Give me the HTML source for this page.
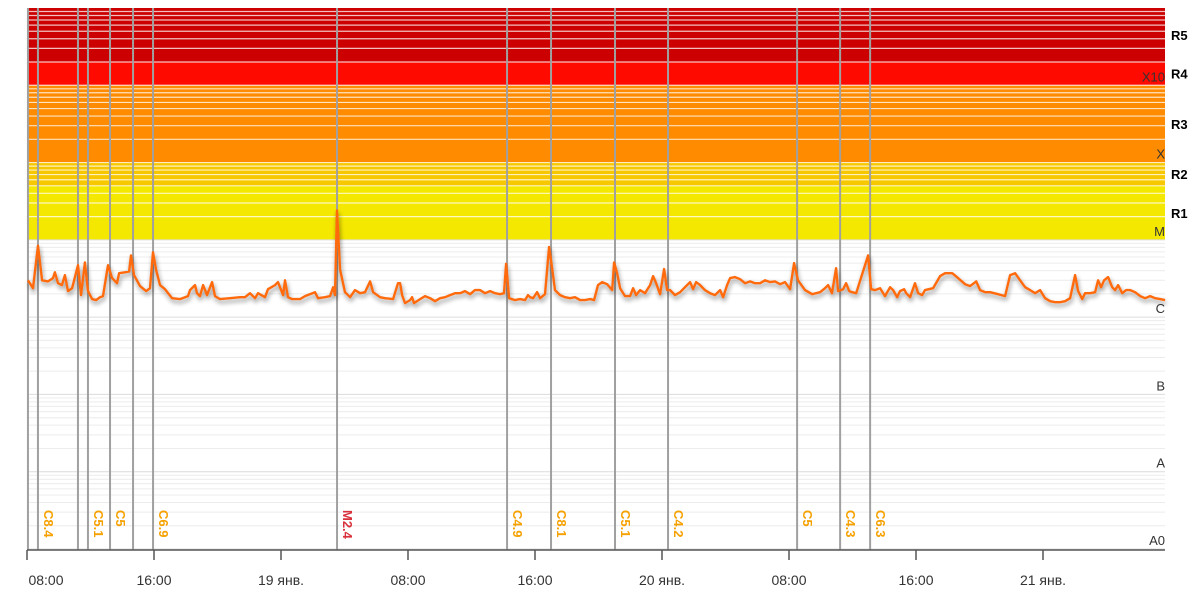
<!DOCTYPE html>
<html><head><meta charset="utf-8"><style>
html,body{margin:0;padding:0;background:#fff;}
svg{display:block;font-family:"Liberation Sans","Noto Sans CJK JP",sans-serif;}
</style></head><body>
<svg id="chart" width="1200" height="609" viewBox="0 0 1200 609" xmlns="http://www.w3.org/2000/svg">
<defs>
<filter id="sh" x="-5%" y="-20%" width="110%" height="140%"><feGaussianBlur in="SourceAlpha" stdDeviation="2.5"/><feOffset dx="1" dy="3"/><feComponentTransfer><feFuncA type="linear" slope="0.45"/></feComponentTransfer><feMerge><feMergeNode/><feMergeNode in="SourceGraphic"/></feMerge></filter>
</defs>
<g id="bands"></g>
<g id="grid"></g>
<g id="flares"></g>
<g id="series"></g>
<g id="ylabels"></g>
<g id="xaxis"></g>
</svg>
<script>
// time in hours from 18 Jan 08:00; flux in units of 1e-6 W/m2 (C-class)
const times = [0.06,0.38,0.69,0.95,1.32,1.64,1.76,1.95,2.2,2.39,2.58,2.84,3.21,3.4,3.65,3.84,4.1,4.35,4.6,4.79,5.1,5.36,5.67,5.8,6.17,6.43,6.55,6.74,7.12,7.5,7.75,7.94,8.13,8.38,8.69,9.14,9.64,10.14,10.27,10.58,10.71,10.9,11.09,11.34,11.66,11.84,12.16,12.79,13.42,13.73,14.05,14.36,14.55,14.99,15.18,15.62,15.81,16.13,16.25,16.44,16.7,17.2,17.51,18.14,18.33,18.77,19.09,19.28,19.4,19.53,19.72,20.03,20.35,20.66,20.98,21.29,21.61,21.8,22.24,22.55,23.06,23.37,23.5,23.63,23.81,24.13,24.26,24.38,24.76,25.07,25.39,25.7,26.02,26.33,26.65,26.96,27.28,27.59,27.91,28.22,28.54,28.85,29.17,29.48,29.8,30.05,30.18,30.37,30.74,31.06,31.37,31.56,31.69,31.88,32.13,32.32,32.63,32.89,33.08,33.26,33.58,33.89,34.21,34.52,34.84,35.15,35.47,35.72,35.97,36.23,36.54,36.86,36.98,37.17,37.36,37.67,37.99,38.18,38.37,38.62,38.93,39.25,39.44,39.63,39.88,40.13,40.32,40.51,40.82,41.14,41.45,41.77,41.96,42.15,42.4,42.71,43.03,43.34,43.66,43.85,44.1,44.29,44.6,44.92,45.23,45.55,45.86,46.18,46.49,46.81,47.12,47.44,47.75,48.07,48.32,48.57,49.01,49.46,49.96,50.27,50.46,50.71,50.97,51.09,51.41,51.6,51.79,51.98,52.23,52.98,53.17,53.42,53.74,54.05,54.37,54.56,54.81,54.99,55.25,55.38,55.63,55.94,56.13,56.39,56.57,57.08,57.52,57.83,58.28,58.65,59.09,59.41,59.79,60.04,60.35,60.67,61.17,61.61,61.93,62.24,62.56,62.87,63.19,63.5,63.82,64.13,64.45,64.76,65.08,65.39,65.71,66.02,66.21,66.47,66.65,66.97,67.28,67.47,67.66,67.85,68.1,68.36,68.54,68.73,68.99,69.24,69.49,69.8,70.12,70.43,70.75,71.06,71.38,71.69];
const flux = [3.0,2.37,8.4,3.0,2.9,3.2,3.8,2.75,2.6,3.5,2.17,2.37,4.7,1.93,5.1,2.17,1.71,1.66,1.81,1.87,4.7,3.2,2.75,3.7,3.8,3.9,6.3,3.5,2.52,2.17,2.37,6.9,4.1,2.6,2.3,1.76,1.71,1.87,2.24,2.6,2.04,1.87,2.6,1.93,2.84,1.87,1.71,1.76,1.81,1.81,2.04,1.76,2.04,1.81,2.3,2.6,2.84,1.93,3.0,1.81,1.71,1.71,1.87,2.1,1.76,1.81,1.87,2.44,1.93,24,4.1,2.1,1.81,2.24,2.04,2.1,2.9,2.1,1.81,1.76,1.71,2.75,2.75,1.93,1.52,1.66,1.81,1.52,1.71,1.87,1.76,1.61,1.76,1.81,1.93,2.04,2.04,2.17,1.98,2.24,2.24,2.04,2.17,2.04,1.98,2.04,4.9,1.76,1.66,1.71,1.66,1.93,1.81,1.76,2.1,1.76,1.98,8.1,4.3,2.24,1.93,1.81,1.76,1.81,1.66,1.66,1.71,1.66,2.6,2.84,2.67,2.24,5.1,3.7,2.37,1.87,1.87,2.37,1.93,2.24,2.04,2.6,3.4,2.75,1.98,4.2,2.24,2.24,1.93,2.1,2.44,2.84,2.3,2.84,2.6,2.24,2.04,1.93,2.24,1.81,2.6,3.2,3.3,3.1,2.75,2.9,2.75,2.75,3.0,2.84,2.9,2.67,2.84,2.3,5.0,3.0,2.24,1.98,2.1,2.37,2.6,2.04,4.3,2.17,2.3,2.75,2.17,2.1,2.04,6.3,2.3,2.24,2.37,1.87,2.44,2.24,1.81,2.17,2.3,2.04,1.81,2.75,2.04,1.93,2.24,2.37,3.4,3.7,3.7,3.2,2.67,2.52,2.9,2.24,2.1,2.1,1.98,1.87,3.5,3.7,3.0,2.44,2.24,2.04,2.24,1.76,1.61,1.56,1.56,1.61,1.76,3.5,2.17,1.71,2.04,2.04,2.1,3.0,2.44,3.0,3.3,2.44,2.24,2.6,2.04,2.24,2.24,2.1,1.87,1.76,1.87,1.76,1.71,1.66];
const flareTimes = [0.06,0.69,3.21,3.84,5.23,6.68,7.94,19.53,30.24,33.01,37.04,40.38,48.51,51.22,53.11];
const flareLabels = ["","C8.4","","C5.1","C5","","C6.9","M2.4","C4.9","C8.1","C5.1","C4.2","C5","C4.3","C6.3"];
const tickHours = [0,8,16,24,32,40,48,56,64];
const tickLabels = ["08:00","16:00","19 янв.","08:00","16:00","20 янв.","08:00","16:00","21 янв."];
const levelNames = ["A0","A","B","C","M","X","X10"];
const levelFlux = [1e-9,1e-8,1e-7,1e-6,1e-5,1e-4,1e-3];
const rNames = ["R1","R2","R3","R4","R5"];
const rFlux = [1e-5,5e-5,1e-4,1e-3,2e-3,1e-2];

const X0=27, X1=1165, HMAX=(1165-27)/15.875;
const Y_BOT=549, Y_TOP=8;
const xs = h => X0 + h/HMAX*(X1-X0);
const ys = f => Y_BOT - (Math.log10(f)+9)/7*(Y_BOT-Y_TOP);
const NS="http://www.w3.org/2000/svg";
function mk(tag, attrs, parent){const e=document.createElementNS(NS,tag);for(const k in attrs)e.setAttribute(k,attrs[k]);parent.appendChild(e);return e;}

const bands=document.getElementById('bands');
const bandDefs=[[1e-5,5e-5,"#f5e800"],[5e-5,1e-4,"#f7c800"],[1e-4,1e-3,"#ff8c00"],[1e-3,2e-3,"#ff0a00"],[2e-3,1e-2,"#cc0000"]];
bandDefs.forEach(b=>{
  const r=mk('rect',{x:X0,y:ys(b[1]),width:X1-X0,height:ys(b[0])-ys(b[1]),fill:b[2]},bands);
  
  
});
const grid=document.getElementById('grid');
for(let e=-9;e<-2;e++){for(let k=1;k<10;k++){
  const f=k*Math.pow(10,e); const y=ys(f);
  const inBand=f>1e-5+1e-12;
  const l=mk('line',{x1:X0,x2:X1,y1:y,y2:y,stroke:inBand?"rgba(255,255,255,0.75)":(k==1?"#dcdcdc":"#ececec"),"stroke-width":inBand?1.2:1},grid);
  
  
}}
const fl=document.getElementById('flares');
flareTimes.forEach((t,i)=>{
  const x=xs(t);
  const l=mk('line',{x1:x,x2:x,y1:Y_TOP,y2:550,stroke:"#a0a0a0","stroke-width":2},fl);
  
  
  if(flareLabels[i]){
    const tx=mk('text',{x:0,y:0,transform:`translate(${x+6},510) rotate(90)`,fill:flareLabels[i][0]=="M"?"#d8323c":"#f5a100","font-size":13,"font-weight":"bold"},fl);
    tx.textContent=flareLabels[i];
    
    
  }
});
const sg=document.getElementById('series');
const d=times.map((t,i)=>(i?"L":"M")+xs(t).toFixed(1)+","+ys(flux[i]*1e-6).toFixed(1)).join("");
const p=mk('path',{d:d,fill:"none",stroke:"#ff6a10","stroke-width":2.4,"stroke-linejoin":"round",filter:"url(#sh)"},sg);


const yl=document.getElementById('ylabels');
levelNames.forEach((n,i)=>{
  const t=mk('text',{x:X1,y:ys(levelFlux[i])-4,"text-anchor":"end",fill:"#333","font-size":13},yl);
  t.textContent=n;
  
  
});
rNames.forEach((n,i)=>{
  const yc=(ys(rFlux[i])+ys(rFlux[i+1]))/2;
  const t=mk('text',{x:1171,y:yc+5,fill:"#000","font-size":13,"font-weight":"bold"},yl);
  t.textContent=n;
  
  
});
const xa=document.getElementById('xaxis');
const al=mk('line',{x1:X0,x2:X1,y1:550,y2:550,stroke:"#555","stroke-width":1.5},xa);


tickHours.forEach((h,i)=>{
  const x=xs(h);
  const tk=mk('line',{x1:x,x2:x,y1:550,y2:560,stroke:"#555","stroke-width":1.5},xa);
  
  
  const t=mk('text',{x:x+(i==0?19:0),y:585,"text-anchor":"middle",fill:"#333","font-size":14},xa);
  t.textContent=tickLabels[i];
  
  
});
</script>
</body></html>
